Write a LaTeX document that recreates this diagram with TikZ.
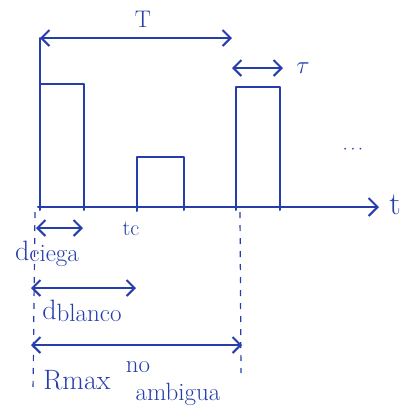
\documentclass[tikz,border=0pt]{standalone}
\usetikzlibrary{arrows.meta}
\definecolor{ink}{RGB}{38,62,172}
\newcommand\subtxt[1]{\raisebox{-1.5pt}{\fontsize{25}{28}\selectfont #1}}
\begin{document}
\begin{tikzpicture}[x=1pt,y=-1pt,
  ink line/.style={draw=ink,line width=2pt,line cap=round,line join=round},
  barb/.tip={Straight Barb[length=8pt,width=16pt,line width=2pt]},
  dim/.style={ink line,barb-barb},
  guide/.style={draw=ink,line width=1.2pt,dash pattern=on 6pt off 7pt},
  lbl/.style={text=ink,inner sep=0pt,font=\fontsize{28}{32}\selectfont},
  slbl/.style={text=ink,inner sep=0pt,font=\fontsize{25}{28}\selectfont}]
\useasboundingbox[fill=white] (0,0) rectangle (403,413);
% axis coordinates
\coordinate (o) at (38,207);
\coordinate (tend) at (379,207);
\coordinate (vtop) at (40,38);
% time axis
\draw[ink line,-{Straight Barb[length=9pt,width=18pt,line width=2pt]}] (o) -- (tend);
\node[text=ink,inner sep=0pt,font=\fontsize{32}{36}\selectfont] (tl) at (395,205) {t};
% vertical line at origin
\draw[ink line] (40,210) -- (vtop);
% period arrow
\coordinate (Tend) at (232,38);
\draw[dim] (vtop) -- (Tend);
\node[text=ink,inner sep=0pt,font=\fontsize{24}{28}\selectfont] (Tl) at (143,19) {T};
% pulses
\draw[ink line] (40,84) -- (84,84) -- (84,210);
\draw[ink line] (137,211) -- (137,157) -- (184,157) -- (184,210);
\draw[ink line] (236,210) -- (236,87) -- (280,87) -- (280,210);
% tau arrow
\coordinate (ta) at (232,68);
\coordinate (tb) at (283,68);
\draw[dim] (ta) -- (tb);
\node[text=ink,inner sep=0pt,font=\fontsize{30}{34}\selectfont] (taul) at (303,68) {$\tau$};
% dots
\node[text=ink,inner sep=0pt,font=\fontsize{18}{20}\selectfont] (dots) at (353,150) {$\cdots$};
% guides
\coordinate (g1a) at (35,212);
\coordinate (g1b) at (33,393);
\coordinate (g2a) at (240,212);
\coordinate (g2b) at (241,373);
\draw[guide] (g1a) -- (g1b);
\draw[guide] (g2a) -- (g2b);
% tc
\node[text=ink,inner sep=0pt,font=\fontsize{22}{24}\selectfont] (tc) at (131,229) {tc};
% dciega
\coordinate (dca) at (36,228);
\coordinate (dcb) at (83,228);
\draw[dim] (dca) -- (dcb);
\node[lbl] (dcl) at (47,254) {d\subtxt{ciega}};
% dblanco
\coordinate (dba) at (31,288);
\coordinate (dbb) at (136,288);
\draw[dim] (dba) -- (dbb);
\node[lbl] (dbl) at (82,311) {d\subtxt{blanco}};
% Rmax
\coordinate (ra) at (31,345);
\coordinate (rb) at (242,345);
\draw[dim] (ra) -- (rb);
\node[lbl] (rl) at (77,380) {Rmax};
\node[slbl] (nol) at (138,367) {no};
\node[slbl] (aml) at (178,394) {ambigua};
\end{tikzpicture}
\end{document}
